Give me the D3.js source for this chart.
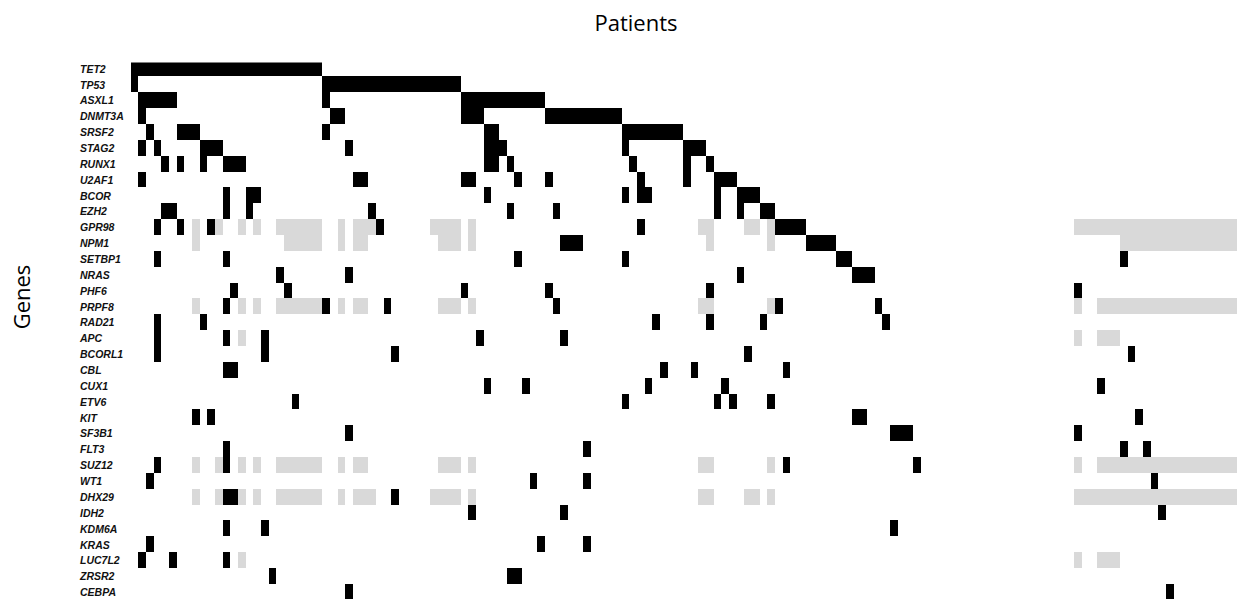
<!DOCTYPE html>
<html>
<head>
<meta charset="utf-8">
<script src="https://cdn.jsdelivr.net/npm/d3@7"></script>
<style>
  html, body { margin: 0; padding: 0; background: #fff; }
  svg { display: block; }
</style>
</head>
<body>
<svg id="chart" width="1237" height="599"></svg>
<script>
// Genes in row order (top to bottom)
const genes = ["TET2","TP53","ASXL1","DNMT3A","SRSF2","STAG2","RUNX1","U2AF1","BCOR","EZH2",
  "GPR98","NPM1","SETBP1","NRAS","PHF6","PRPF8","RAD21","APC","BCORL1","CBL","CUX1","ETV6",
  "KIT","SF3B1","FLT3","SUZ12","WT1","DHX29","IDH2","KDM6A","KRAS","LUC7L2","ZRSR2","CEBPA"];

// Number of patient columns
const patientCount = 145;

// Mutated patients per gene: single indices or [first, last] runs
const mutated = {
  TET2:   [[0,24]],
  TP53:   [0, [25,42]],
  ASXL1:  [[1,5], 25, [43,53]],
  DNMT3A: [1, [26,27], [43,45], [54,63]],
  SRSF2:  [2, [6,8], 25, [46,47], [64,71]],
  STAG2:  [1, 3, [9,11], 28, [46,48], 64, [72,74]],
  RUNX1:  [4, 6, 9, [12,14], [46,47], 49, 65, 72, 75],
  U2AF1:  [1, [29,30], [43,44], 50, 54, 66, 72, [76,78]],
  BCOR:   [12, [15,16], 46, 64, [66,67], 76, [79,81]],
  EZH2:   [[4,5], 12, 15, 31, 49, 55, 76, 79, [82,83]],
  GPR98:  [3, 6, 10, 32, 66, [84,87]],
  NPM1:   [[56,58], [88,91]],
  SETBP1: [3, 12, 50, 64, [92,93], 129],
  NRAS:   [19, 28, 79, [94,96]],
  PHF6:   [13, 20, 43, 54, 75, 123],
  PRPF8:  [12, 25, 33, 55, 84, 97],
  RAD21:  [3, 9, 68, 75, 82, 98],
  APC:    [3, 12, 17, 45, 56],
  BCORL1: [3, 17, 34, 80, 130],
  CBL:    [[12,13], 69, 73, 85],
  CUX1:   [46, 51, 67, 77, 126],
  ETV6:   [21, 64, 76, 78, 83],
  KIT:    [8, 10, [94,95], 131],
  SF3B1:  [28, [99,101], 123],
  FLT3:   [12, 59, 129, 132],
  SUZ12:  [3, 12, 85, 102],
  WT1:    [2, 52, 59, 133],
  DHX29:  [[12,13], 34],
  IDH2:   [44, 56, 134],
  KDM6A:  [12, 17, 99],
  KRAS:   [2, 53, 59],
  LUC7L2: [1, 5, 12],
  ZRSR2:  [18, [49,50]],
  CEBPA:  [28, 135]
};

// Patients where the gene was not assessed (grey cells)
const notAssessed = {
  GPR98:  [8, 11, 14, 16, [19,24], 27, [29,31], [39,42], 44, [74,75], [80,81], 83, [123,144]],
  NPM1:   [8, [20,24], 27, [29,30], [40,42], 44, 75, 83, [129,144]],
  PRPF8:  [8, 14, 16, [19,24], 27, [29,30], [40,42], 44, [74,75], 83, 123, [126,144]],
  APC:    [14, 123, [126,128]],
  SUZ12:  [8, 11, 14, 16, [19,24], 27, [29,30], [40,42], 44, [74,75], 83, 123, [126,144]],
  DHX29:  [8, 11, 14, 16, [19,24], 27, [29,31], [39,42], 44, [74,75], [80,81], 83, [123,144]],
  LUC7L2: [14, 123, [126,128]]
};

// Turn a gene -> entries table into a flat list of {gene, patient} cells
function toCells(table) {
  const cells = [];
  Object.entries(table).forEach(([gene, entries]) => {
    entries.forEach(e => {
      if (Array.isArray(e)) {
        for (let p = e[0]; p <= e[1]; p++) cells.push({gene, patient: p});
      } else {
        cells.push({gene, patient: e});
      }
    });
  });
  return cells;
}

const svg = d3.select("#chart");

const colW = 7.67, gridLeft = 130.7;
const x = d3.scaleBand()
  .domain(d3.range(patientCount))
  .range([gridLeft, gridLeft + patientCount * colW])
  .padding(0);

const rowH = 15.86, gridTop = 60.5;
const y = d3.scaleBand()
  .domain(genes)
  .range([gridTop, gridTop + genes.length * rowH])
  .padding(0);

// Keep the grid inside its plotting window
svg.append("clipPath").attr("id", "gridClip")
  .append("rect")
  .attr("x", gridLeft).attr("y", 62.5)
  .attr("width", patientCount * colW).attr("height", 599 - 62.5);

const grid = svg.append("g")
  .attr("clip-path", "url(#gridClip)")
  .attr("shape-rendering", "crispEdges");

grid.selectAll("rect.na")
  .data(toCells(notAssessed))
  .join("rect")
  .attr("class", "na")
  .attr("x", d => x(d.patient))
  .attr("y", d => y(d.gene))
  .attr("width", x.bandwidth())
  .attr("height", y.bandwidth())
  .attr("fill", "#d9d9d9");

grid.selectAll("rect.mut")
  .data(toCells(mutated))
  .join("rect")
  .attr("class", "mut")
  .attr("x", d => x(d.patient))
  .attr("y", d => y(d.gene))
  .attr("width", x.bandwidth())
  .attr("height", y.bandwidth())
  .attr("fill", "#000");

// Gene labels on the left
const yAxis = d3.axisLeft(y).tickSize(0).tickPadding(0);
const axisG = svg.append("g")
  .attr("transform", "translate(80,0.5)")
  .call(yAxis);
axisG.select(".domain").remove();
axisG.selectAll("text")
  .attr("text-anchor", "start")
  .attr("x", 0)
  .attr("dy", "0.36em")
  .style("font-family", "'Liberation Sans', Arial, sans-serif")
  .style("font-size", "10.5px")
  .style("font-weight", "bold")
  .style("font-style", "italic")
  .attr("fill", "#111");

// Axis titles
svg.append("text")
  .attr("x", 636)
  .attr("y", 31)
  .attr("text-anchor", "middle")
  .style("font-family", "'Open Sans', sans-serif")
  .style("font-size", "22px")
  .attr("fill", "#000")
  .text("Patients");

svg.append("text")
  .attr("transform", "translate(30,297) rotate(-90)")
  .attr("text-anchor", "middle")
  .style("font-family", "'Open Sans', sans-serif")
  .style("font-size", "22px")
  .attr("fill", "#000")
  .text("Genes");
</script>
</body>
</html>
